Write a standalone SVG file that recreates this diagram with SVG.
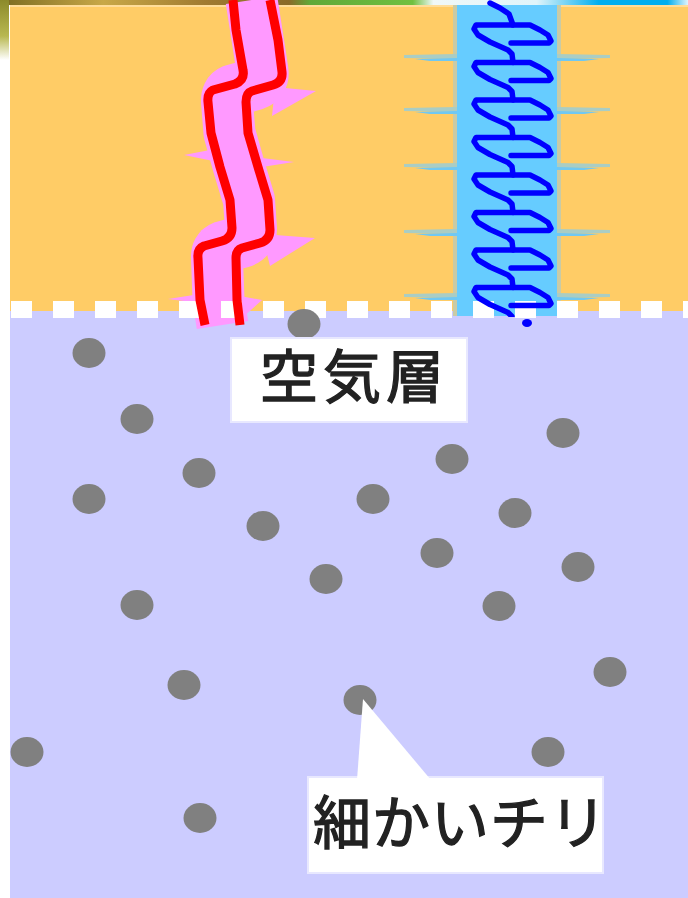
<svg xmlns="http://www.w3.org/2000/svg" width="688" height="898" viewBox="0 0 688 898">
  <style>
    .wall{fill:#FFCC66}
    .air{fill:#CCCCFF}
    .pink{fill:none;stroke:#FF99FF;stroke-width:52;stroke-linejoin:round}
    .pink-spike{fill:#FF99FF}
    .red{fill:none;stroke:#FF0000;stroke-width:9;stroke-linejoin:round}
    .coil{fill:none;stroke:#0000FF;stroke-width:5.5;stroke-linejoin:round;stroke-linecap:round}
    .spike{fill:#AACDC4}
    .spike-core{fill:#70C8F2}
    .dash{fill:#FFFFFF}
    .dust{fill:#808080}
    .label-box{fill:#FFFFFF;stroke:#E8E8FF;stroke-width:2}
    .label{font-family:"Noto Sans CJK JP","Noto Sans CJK SC",sans-serif;font-size:58px;fill:#222222;stroke:#222222;stroke-width:1.3}
  </style>
  <defs>
    <linearGradient id="strip" x1="0" y1="0" x2="1" y2="0">
      <stop offset="0" stop-color="#7A6A20"/>
      <stop offset="0.15" stop-color="#C8A848"/>
      <stop offset="0.3" stop-color="#A07A30"/>
      <stop offset="0.42" stop-color="#8A6A28"/>
      <stop offset="0.45" stop-color="#60A838"/>
      <stop offset="0.6" stop-color="#70C040"/>
      <stop offset="0.63" stop-color="#F0F8F8"/>
      <stop offset="0.78" stop-color="#E0F4FA"/>
      <stop offset="0.87" stop-color="#00AEEF"/>
      <stop offset="0.97" stop-color="#00AEEF"/>
      <stop offset="1" stop-color="#E0F4FC"/>
    </linearGradient>
    <linearGradient id="edge" x1="0" y1="0" x2="0" y2="1">
      <stop offset="0" stop-color="#8C8A2A"/>
      <stop offset="0.6" stop-color="#B8B850"/>
      <stop offset="1" stop-color="#FFFFFF"/>
    </linearGradient>
    <clipPath id="above-line">
      <rect x="0" y="0" width="688" height="317"/>
    </clipPath>
    <!-- one turn of the coil, 37.5px tall: top bar, long left diagonal, short right hook -->
    <path id="coil-turn" d="M 530 0 L 476 0 L 474 4 L 478 10 L 490 17 L 508 25 L 512 29 L 513 37.5 M 530 0 L 540 5 L 548 10 L 551 16 L 549 18 L 511 18"/>
    <ellipse id="dot" rx="16.5" ry="15"/>
  </defs>

  <!-- background layers -->
  <rect x="0" y="0" width="688" height="898" fill="#FFFFFF"/>
  <rect class="wall" x="10" y="5" width="678" height="307"/>
  <rect class="air" x="10" y="311" width="678" height="587"/>
  <rect x="0" y="0" width="688" height="5" fill="url(#strip)"/>
  <rect x="10" y="5" width="678" height="2" fill="#FFDD99"/>
  <rect x="0" y="0" width="9" height="60" fill="url(#edge)"/>

  <!-- pink band with jagged edges -->
  <g id="pink-band">
    <path class="pink" d="M 251.5 0 L 257 35 L 262.5 71 Q 264 81 254 84.5 L 232.5 90.5 Q 226.5 93 227 102 L 229.5 133 L 239 167 L 249 200 L 251 229 Q 251 239 241 242 L 223 247 Q 216.5 249.5 217 258 L 218.5 300 L 222.5 325"/>
    <polygon class="pink-spike" points="275,87 316,91 272,116"/>
    <polygon class="pink-spike" points="215,149 184,155 218,162"/>
    <polygon class="pink-spike" points="262,158 294,162 262,167"/>
    <polygon class="pink-spike" points="262,234 315,238 270,266"/>
    <polygon class="pink-spike" points="210,227 200,231 212,235"/>
    <polygon class="pink-spike" points="200,294 168,299 200,303"/>
    <polygon class="pink-spike" points="240,296 262,300 242,318"/>
  </g>

  <!-- light blue column with side blades -->
  <g id="blue-column">
    <rect x="453" y="5" width="108" height="311" fill="#C9CBA6"/>
    <rect x="457" y="5" width="100" height="311" fill="#66CCFF"/>
    <g id="blades">
      <polygon class="spike" points="404,55 457,54 457,59 404,58"/>
      <polygon class="spike-core" points="415,59 457,58 457,61 430,61"/>
      <polygon class="spike" points="610,55 557,54 557,59 610,58"/>
      <polygon class="spike-core" points="599,59 557,58 557,61 584,61"/>

      <polygon class="spike" points="404,108 457,107 457,112 404,111"/>
      <polygon class="spike-core" points="415,112 457,111 457,114 430,114"/>
      <polygon class="spike" points="610,108 557,107 557,112 610,111"/>
      <polygon class="spike-core" points="599,112 557,111 557,114 584,114"/>

      <polygon class="spike" points="404,164 457,163 457,168 404,167"/>
      <polygon class="spike-core" points="415,168 457,167 457,170 430,170"/>
      <polygon class="spike" points="610,164 557,163 557,168 610,167"/>
      <polygon class="spike-core" points="599,168 557,167 557,170 584,170"/>

      <polygon class="spike" points="404,230 457,229 457,234 404,233"/>
      <polygon class="spike-core" points="415,234 457,233 457,236 430,236"/>
      <polygon class="spike" points="610,230 557,229 557,234 610,233"/>
      <polygon class="spike-core" points="599,234 557,233 557,236 584,236"/>

      <polygon class="spike" points="404,294 457,293 457,298 404,297"/>
      <polygon class="spike-core" points="415,298 457,297 457,300 430,300"/>
      <polygon class="spike" points="610,294 557,293 557,298 610,297"/>
      <polygon class="spike-core" points="599,298 557,297 557,300 584,300"/>
    </g>
  </g>

  <!-- dashed boundary between wall and air layer -->
  <g id="boundary">
    <rect class="dash" x="11" y="301" width="21" height="17"/>
    <rect class="dash" x="53" y="301" width="21" height="17"/>
    <rect class="dash" x="95" y="301" width="21" height="17"/>
    <rect class="dash" x="137" y="301" width="21" height="17"/>
    <rect class="dash" x="179" y="301" width="21" height="17"/>
    <rect class="dash" x="221" y="301" width="21" height="17"/>
    <rect class="dash" x="263" y="301" width="21" height="17"/>
    <rect class="dash" x="305" y="301" width="21" height="17"/>
    <rect class="dash" x="347" y="301" width="21" height="17"/>
    <rect class="dash" x="389" y="301" width="21" height="17"/>
    <rect class="dash" x="431" y="301" width="21" height="17"/>
    <rect class="dash" x="473" y="301" width="21" height="17"/>
    <rect class="dash" x="515" y="301" width="21" height="17"/>
    <rect class="dash" x="557" y="301" width="21" height="17"/>
    <rect class="dash" x="599" y="301" width="21" height="17"/>
    <rect class="dash" x="641" y="301" width="21" height="17"/>
    <rect class="dash" x="683" y="301" width="21" height="17"/>
  </g>

  <!-- blue coil -->
  <g id="coil">
    <g clip-path="url(#above-line)">
      <path class="coil" d="M 490 3 L 500 8 L 509 14 L 513 25"/>
      <use href="#coil-turn" class="coil" transform="translate(0 25)"/>
      <use href="#coil-turn" class="coil" transform="translate(0 62.5)"/>
      <use href="#coil-turn" class="coil" transform="translate(0 100)"/>
      <use href="#coil-turn" class="coil" transform="translate(0 137.5)"/>
      <use href="#coil-turn" class="coil" transform="translate(0 175)"/>
      <use href="#coil-turn" class="coil" transform="translate(0 212.5)"/>
      <use href="#coil-turn" class="coil" transform="translate(0 250)"/>
      <use href="#coil-turn" class="coil" transform="translate(0 287.5)"/>
    </g>
    <ellipse cx="527" cy="323" rx="5" ry="4" fill="#0000FF"/>
  </g>

  <!-- red wavy lines -->
  <g id="red-lines">
    <path class="red" d="M 233 0 L 236 30 L 243 70 Q 245 80 235 84 L 213 90 Q 207 93 208 102 L 211 133 L 220 167 L 230 200 L 232 228 Q 232 238 222 241 L 204 246 Q 197 249 198 258 L 200 300 L 205 325"/>
    <path class="red" d="M 270 0 L 278 40 L 282 72 Q 283 82 273 85 L 252 91 Q 246 93 246 102 L 248 133 L 258 167 L 268 200 L 270 230 Q 270 240 260 243 L 242 248 Q 236 250 236 258 L 237 300 L 240 325"/>
  </g>

  <!-- dust particles -->
  <g id="dust" class="dust">
    <use href="#dot" x="304" y="324"/>
    <use href="#dot" x="89" y="353"/>
    <use href="#dot" x="137" y="419"/>
    <use href="#dot" x="563" y="433"/>
    <use href="#dot" x="452" y="459"/>
    <use href="#dot" x="199" y="473"/>
    <use href="#dot" x="89" y="499"/>
    <use href="#dot" x="373" y="499"/>
    <use href="#dot" x="515" y="513"/>
    <use href="#dot" x="263" y="526"/>
    <use href="#dot" x="437" y="553"/>
    <use href="#dot" x="578" y="567"/>
    <use href="#dot" x="326" y="579"/>
    <use href="#dot" x="137" y="605"/>
    <use href="#dot" x="499" y="606"/>
    <use href="#dot" x="610" y="672"/>
    <use href="#dot" x="184" y="685"/>
    <use href="#dot" x="360" y="700"/>
    <use href="#dot" x="27" y="752"/>
    <use href="#dot" x="548" y="752"/>
    <use href="#dot" x="200" y="818"/>
  </g>

  <!-- labels -->
  <g id="air-layer-label">
    <rect class="label-box" x="231" y="338" width="236" height="84"/>
    <text class="label" x="260" y="398" textLength="184" lengthAdjust="spacing">空気層</text>
  </g>
  <g id="dust-label">
    <rect class="label-box" x="308" y="777" width="295" height="96"/>
    <polygon points="357,780 363,699 431,780" fill="#FFFFFF"/>
    <text class="label" x="313" y="844" textLength="294" lengthAdjust="spacing">細かいチリ</text>
  </g>
</svg>
